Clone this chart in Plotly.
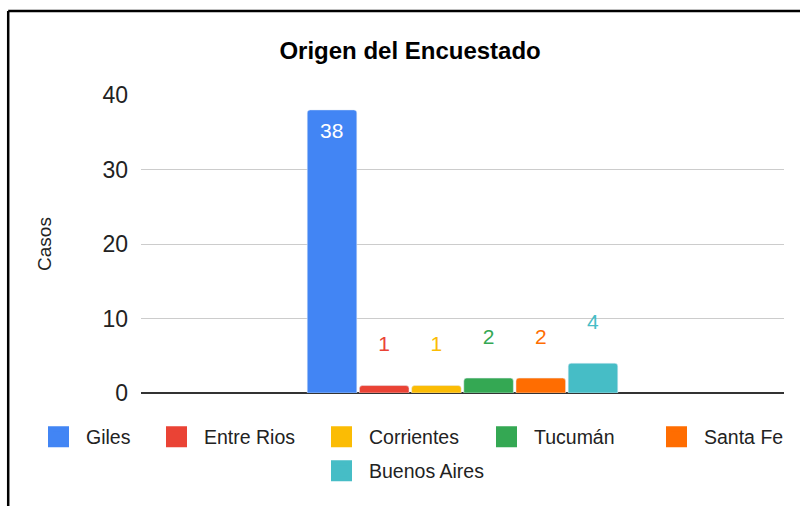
import plotly.graph_objects as go

# ---- data ----
regions = ["Giles", "Entre Rios", "Corrientes", "Tucumán", "Santa Fe", "Buenos Aires"]
casos = [38, 1, 1, 2, 2, 4]
colors = ["#4285F4", "#EA4335", "#FBBC04", "#34A853", "#FF6D01", "#46BDC6"]
category = ["Origen"]
y_ticks = [0, 10, 20, 30, 40]

# ---- layout helpers ----
FONT = "Liberation Sans, Arial, sans-serif"
W, H = 800, 506
L, R, T, B = 141, 15, 95, 113
PW = W - L - R
PH = H - T - B
BARGAP, GROUPGAP = 0.513, 0.05


def px_x(px):
    return (px - L) / PW


def px_y(py):
    return (H - B - py) / PH


# legend placement (symbol centre in pixels)
legend_cx = [58.5, 176.5, 341.5, 506.5, 676.5, 341.5]
legend_cy = [437, 437, 437, 437, 437, 471]

n = len(regions)
slot_px = PW * (1 - BARGAP) / n

fig = go.Figure()
annotations = []
for i, (name, val, col) in enumerate(zip(regions, casos, colors)):
    inside = i == 0
    fig.add_trace(go.Bar(
        x=category, y=[val], name=name,
        marker=dict(color=col, cornerradius=3),
        text=None if inside else [f"{val}<br>\u00a0"],
        textposition="outside",
        textfont=dict(size=21, family=FONT, color=col),
        constraintext="none", cliponaxis=False,
        showlegend=False, hoverinfo="skip",
    ))
    if inside:
        # label drawn inside the top of the tall bar, in white
        annotations.append(dict(
            x=category[0], y=val, xref="x", yref="y",
            xshift=(i - (n - 1) / 2) * slot_px, yshift=-21,
            text=f"{val}", showarrow=False, yanchor="middle", xanchor="center",
            font=dict(size=21, family=FONT, color="white"),
        ))

legend_layouts = {}
for i, (name, col) in enumerate(zip(regions, colors)):
    key = "legend" if i == 0 else f"legend{i + 1}"
    fig.add_trace(go.Scatter(
        x=[None], y=[None], mode="markers", name=name,
        marker=dict(symbol="square", size=16, color=col, line=dict(color=col, width=5)),
        legend=key, showlegend=True, hoverinfo="skip",
    ))
    legend_layouts[key] = dict(
        x=px_x(legend_cx[i] - 27.5), xanchor="left",
        y=px_y(legend_cy[i]), yanchor="middle",
        orientation="h", itemwidth=45,
        font=dict(size=19.5, family=FONT, color="#222222"),
        bgcolor="rgba(0,0,0,0)", borderwidth=0,
    )

fig.update_layout(
    width=W, height=H,
    margin=dict(l=L, r=R, t=T, b=B, pad=0),
    paper_bgcolor="white", plot_bgcolor="white",
    font=dict(family=FONT, color="#222222"),
    barmode="group", bargap=BARGAP, bargroupgap=GROUPGAP,
    title=dict(text="<b>Origen del Encuestado</b>", x=px_x(410.5), xref="paper", xanchor="center",
               y=1 - 51 / H, yref="container", yanchor="middle",
               font=dict(size=24, family=FONT, color="#000000")),
    xaxis=dict(type="category", range=[-0.5, 0.5], showticklabels=False, showgrid=False,
               zeroline=False, showline=False, ticks=""),
    yaxis=dict(range=[0, 40], tickvals=y_ticks, showgrid=True, gridcolor="#cccccc", gridwidth=1,
               zeroline=True, zerolinecolor="#333333", zerolinewidth=2,
               showline=False, ticks="", ticklabelstandoff=12,
               tickfont=dict(size=23, family=FONT, color="#222222"),
               title=dict(text="Casos", standoff=45, font=dict(size=19, family=FONT, color="#222222"))),
    showlegend=True,
    **legend_layouts,
    annotations=annotations,
    shapes=[
        dict(type="line", xref="paper", yref="paper", x0=px_x(8), x1=px_x(805), y0=px_y(11), y1=px_y(11),
             line=dict(color="black", width=2.5)),
        dict(type="line", xref="paper", yref="paper", x0=px_x(8), x1=px_x(8), y0=px_y(11), y1=px_y(510),
             line=dict(color="black", width=2.5)),
    ],
)

fig.write_html(
    "out.html",
    config={"displayModeBar": False},
    post_script="document.body.style.margin='0px';document.body.style.overflow='hidden';",
)
